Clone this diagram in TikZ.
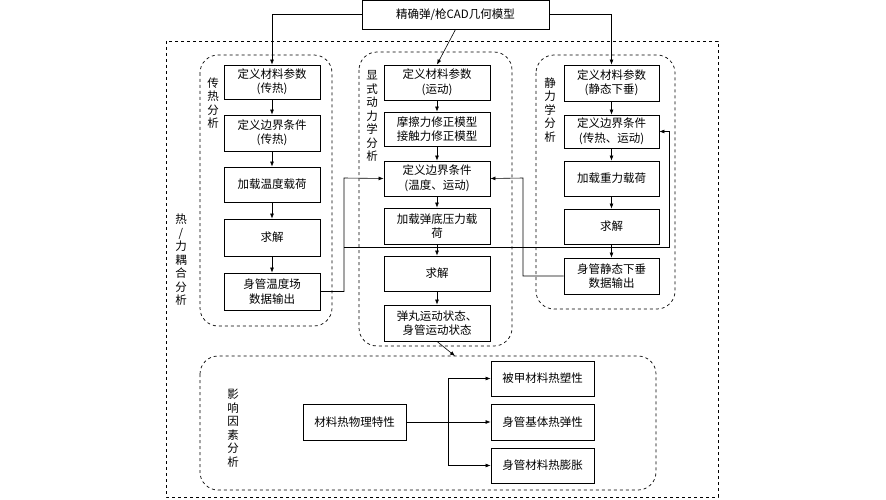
\documentclass[tikz,border=0pt]{standalone}
\usepackage{fontspec}
\setmainfont{Noto Sans CJK SC}
\usetikzlibrary{arrows.meta}
\newcommand{\mytight}{\lineskiplimit=-20pt\relax\lineskip=0pt\relax}
\begin{document}
\begin{tikzpicture}[x=1pt,y=-1pt,
  box/.style={draw,line width=0.9pt,align=center,font=\fontsize{11.5}{14.5}\selectfont\mytight,inner sep=0pt},
  grp/.style={draw,dashed,rounded corners=18pt,line width=0.7pt},
  lab/.style={align=center,font=\fontsize{11.5}{13.5}\selectfont\mytight,inner sep=0pt},
  ar/.style={-{Latex[length=5pt,width=4pt]},line width=0.6pt},
  ln/.style={line width=0.6pt}]
\useasboundingbox (0,0) rectangle (886,500);
\newcommand{\bx}[6]{\node[box,minimum width=#4-#2,minimum height=#5-#3] (#1) at ({(#2+#4)/2},{(#3+#5)/2}) {#6};}
% outer
\draw[dashed,line width=0.8pt] (166,41) rectangle (718,497);
\node[lab] (outl) at (181,260) {热\\/\\力\\耦\\合\\分\\析};
% groups
\draw[grp] (200,55) rectangle (332,326);
\draw[grp] (359,52) rectangle (512,346);
\draw[grp] (536,55) rectangle (675,309);
\draw[grp] (200,356) rectangle (656,490);
\node[lab] (gl1) at (213,103) {传\\热\\分\\析};
\node[lab] (gl2) at (372,116) {显\\式\\动\\力\\学\\分\\析};
\node[lab] (gl3) at (550,110) {静\\力\\学\\分\\析};
\node[lab] (gl4) at (233,428) {影\\响\\因\\素\\分\\析};
% top
\bx{top}{362}{0}{549}{29}{精确弹/枪CAD几何模型}
% left
\bx{l1}{224}{65}{320}{99}{定义材料参数\\(传热)}
\bx{l2}{224}{115}{320}{151}{定义边界条件\\(传热)}
\bx{l3}{224}{167}{320}{202}{加载温度载荷}
\bx{l4}{224}{219}{320}{256}{求解}
\bx{l5}{224}{273}{320}{310}{身管温度场\\数据输出}
% middle
\bx{m1}{384}{65}{490}{100}{定义材料参数\\(运动)}
\bx{m2}{384}{112}{490}{146}{摩擦力修正模型\\接触力修正模型}
\bx{m3}{384}{161}{490}{196}{定义边界条件\\(温度、运动)}
\bx{m4}{384}{208}{490}{244}{加载弹底压力载\\荷}
\bx{m5}{384}{256}{490}{291}{求解}
\bx{m6}{384}{305}{490}{341}{弹丸运动状态、\\身管运动状态}
% right
\bx{r1}{564}{65}{659}{101}{定义材料参数\\(静态下垂)}
\bx{r2}{564}{115}{659}{148}{定义边界条件\\(传热、运动)}
\bx{r3}{564}{161}{659}{196}{加载重力载荷}
\bx{r4}{564}{209}{659}{244}{求解}
\bx{r5}{564}{258}{659}{294}{身管静态下垂\\数据输出}
% bottom
\bx{src}{303}{404}{406}{440}{材料热物理特性}
\bx{b1}{491}{361}{594}{396}{被甲材料热塑性}
\bx{b2}{491}{404}{594}{440}{身管基体热弹性}
\bx{b3}{491}{448}{594}{483}{身管材料热膨胀}
\coordinate (grptop) at (455,356);
% top arrows
\draw[ar] (top.west) -| (l1.north);
\draw[ar] (top.south) -- (m1.north);
\draw[ar] (top.east) -| (r1.north);
% chains
\foreach \a/\b in {l1/l2,l2/l3,l3/l4,l4/l5,m1/m2,m2/m3,m3/m4,m4/m5,m5/m6,r1/r2,r2/r3,r3/r4,r4/r5}
  \draw[ar] (\a) -- (\b);
\draw[ar] (m6.south) -- (grptop);
% feedback
\coordinate (fa) at (344,247);
\draw[ar] (l5.east) -| (344,178) -- (m3.west);
\draw[ar] (fa) -- (669,247) |- (r2.east);
\draw[ar] (r5.west) -| (523,178) -- (m3.east);
% bottom branches
\draw[ln] (src.east) -- (448,422);
\draw[ar] (448,422) |- (b1.west);
\draw[ar] (448,422) -- (b2.west);
\draw[ar] (448,422) |- (b3.west);
\end{tikzpicture}
\end{document}
